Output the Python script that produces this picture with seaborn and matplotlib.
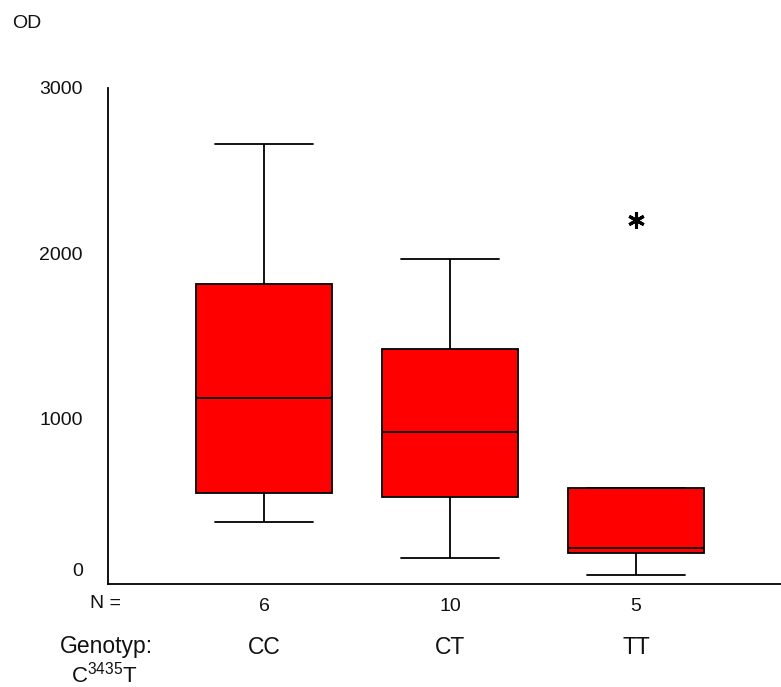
import numpy as np
import pandas as pd
import matplotlib
matplotlib.use("Agg")
import matplotlib.pyplot as plt
import matplotlib.transforms as mtransforms
import seaborn as sns

# ---- data ----
genotypes = ["CC", "CT", "TT"]
n_labels = ["6", "10", "5"]
od_cc = [376, 450, 858, 1398, 1957, 2663]
od_ct = [155, 300, 480, 668, 850, 984, 1250, 1482, 1700, 1964]
od_tt = [54, 185, 216, 582, 2199]
y_ticks = [0, 1000, 2000, 3000]

df = pd.DataFrame({
    "Genotyp": ["CC"] * len(od_cc) + ["CT"] * len(od_ct) + ["TT"] * len(od_tt),
    "OD": od_cc + od_ct + od_tt,
})

sns.set_style("white")
plt.rcParams["font.family"] = ["Liberation Sans", "DejaVu Sans"]
plt.rcParams["text.color"] = "#111111"
plt.rcParams["mathtext.fontset"] = "custom"
plt.rcParams["mathtext.rm"] = "Liberation Sans"
plt.rcParams["mathtext.it"] = "Liberation Sans:italic"
plt.rcParams["mathtext.bf"] = "Liberation Sans:bold"

W, H = 781, 687
fig = plt.figure(figsize=(W / 100, H / 100), dpi=100)
ax = fig.add_axes([108 / W, (H - 584) / H, (W - 108) / W, (584 - 88) / H])

sns.boxplot(
    data=df, x="Genotyp", y="OD", order=genotypes, ax=ax,
    color="#FF0000", saturation=1, width=0.73, whis=1.5,
    linecolor="black", linewidth=1.3, capwidths=0.53,
    flierprops=dict(marker=(6, 2, 0), markersize=12,
                    markeredgecolor="black", markeredgewidth=2.2),
)

ax.set_ylim(0, 3000)
ax.set_xlim(-0.839, 2.78)
ax.set_yticks(y_ticks)
ax.set_yticklabels([str(v) for v in y_ticks], fontsize=14, color="#111111")
ax.set_xticks([0, 1, 2])
ax.set_xticklabels(n_labels, fontsize=14, color="#111111")
ax.set_xlabel("")
ax.set_ylabel("")
for s in ["top", "right"]:
    ax.spines[s].set_visible(False)
for s in ["left", "bottom"]:
    ax.spines[s].set_color("black")
    ax.spines[s].set_linewidth(1.3)
ax.tick_params(axis="y", direction="out", length=3, width=1.2, pad=15, colors="black",
               labelcolor="#111111")
ax.tick_params(axis="x", direction="out", length=4, width=1.2, pad=6, colors="black",
               labelcolor="#111111")

# SPSS-style: the "0" label is lifted above the axis line
lab0 = ax.get_yticklabels()[0]
lab0.set_transform(lab0.get_transform() +
                   mtransforms.ScaledTranslation(0, 15 / 100, fig.dpi_scale_trans))

def fx(px):
    return px / W

def fy(py):
    return 1 - py / H

fig.text(fx(27), fy(23), "OD", fontsize=14, ha="center", va="center")
fig.text(fx(106), fy(603), "N =", fontsize=14, ha="center", va="center")
fig.text(fx(106), fy(647), "Genotyp:", fontsize=16.5, ha="center", va="center")
fig.text(fx(104), fy(682), r"C$^{3435}$T", fontsize=16, ha="center", va="baseline")
for i, g in enumerate(genotypes):
    ax.annotate(g, xy=(i, fy(647)), xycoords=("data", "figure fraction"),
                fontsize=16.5, ha="center", va="center")

fig.savefig("out.png", dpi=100)
